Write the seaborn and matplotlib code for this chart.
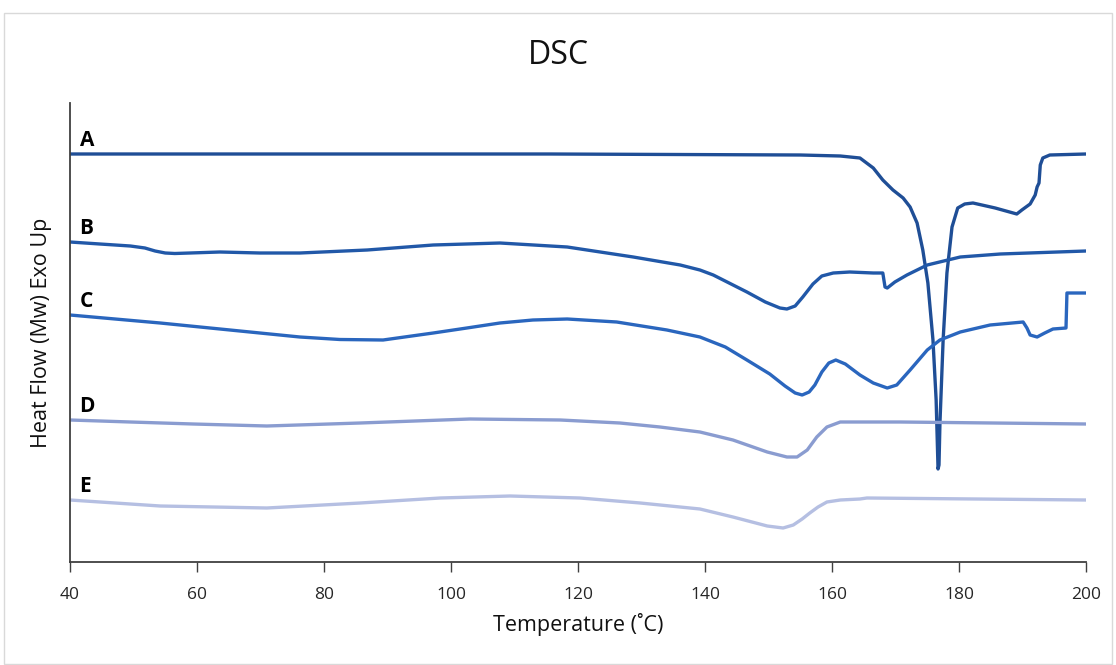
import numpy as np
import pandas as pd
import matplotlib
matplotlib.use("Agg")
import matplotlib.pyplot as plt
import seaborn as sns
from matplotlib.patches import Rectangle

# ---- data (temperature in °C, heat flow in arbitrary units) ----
samples = ["A", "B", "C", "D", "E"]

temp_A = [40.0, 76.2, 115.6, 155.0, 161.3, 164.4, 166.5, 168.0, 169.6, 171.2, 172.3, 173.4,
          174.3, 175.1, 175.9, 176.4, 176.7, 176.85, 177.0, 177.5, 178.1, 178.9, 179.8,
          180.9, 182.2, 185.7, 189.1, 189.9, 191.2, 192.0, 192.3, 192.6, 192.8, 193.2,
          194.3, 200.0]
hf_A = [4.08, 4.08, 4.08, 4.07, 4.06, 4.04, 3.94, 3.82, 3.72, 3.64, 3.55, 3.39,
        3.12, 2.79, 2.22, 1.62, 0.93, 0.97, 1.39, 2.22, 2.89, 3.35, 3.54,
        3.58, 3.59, 3.54, 3.48, 3.52, 3.58, 3.67, 3.75, 3.79, 3.97, 4.04,
        4.07, 4.08]

temp_B = [40.0, 44.7, 49.5, 51.8, 53.4, 55.0, 56.5, 58.9, 63.6, 69.9, 76.2, 86.8, 97.2,
          107.7, 118.3, 128.7, 136.1, 139.2, 141.3, 146.6, 149.5, 151.8, 152.9, 154.2,
          155.4, 157.0, 158.4, 160.2, 162.8, 166.5, 168.0, 168.35, 168.7, 169.9, 171.8,
          175.0, 180.2, 186.5, 200.0]
hf_B = [3.20, 3.18, 3.16, 3.14, 3.11, 3.09, 3.085, 3.09, 3.10, 3.09, 3.09, 3.12, 3.17,
        3.19, 3.15, 3.05, 2.97, 2.92, 2.87, 2.70, 2.60, 2.54, 2.53, 2.56,
        2.65, 2.78, 2.86, 2.89, 2.90, 2.89, 2.89, 2.75, 2.74, 2.80, 2.87,
        2.97, 3.05, 3.08, 3.11]

temp_C = [40.0, 54.2, 69.9, 76.2, 82.5, 89.3, 97.2, 102.5, 107.7, 112.9, 118.3, 126.1,
          134.0, 139.2, 143.2, 146.6, 150.2, 152.6, 154.2, 155.3, 156.4, 157.3, 158.4,
          159.5, 160.6, 162.1, 164.4, 166.5, 168.7, 170.2, 172.3, 175.0, 177.0, 180.2,
          184.9, 190.1, 190.7, 191.2, 192.3, 193.5, 194.8, 196.85, 197.0, 200.0]
hf_C = [2.47, 2.39, 2.29, 2.25, 2.225, 2.22, 2.29, 2.34, 2.39, 2.42, 2.43, 2.40,
        2.32, 2.25, 2.15, 2.02, 1.88, 1.76, 1.69, 1.67, 1.70, 1.77, 1.90,
        1.99, 2.02, 1.98, 1.87, 1.79, 1.74, 1.77, 1.92, 2.12, 2.22, 2.30,
        2.37, 2.40, 2.34, 2.27, 2.25, 2.29, 2.33, 2.34, 2.69, 2.69]

temp_D = [40.0, 49.5, 59.4, 71.0, 85.7, 103.0, 117.2, 126.6, 132.9, 139.2, 144.4, 149.8,
          152.9, 154.5, 156.1, 157.6, 159.2, 161.3, 170.7, 200.0]
hf_D = [1.42, 1.40, 1.38, 1.36, 1.39, 1.43, 1.42, 1.39, 1.35, 1.30, 1.22, 1.10,
        1.05, 1.05, 1.12, 1.25, 1.35, 1.40, 1.40, 1.38]

temp_E = [40.0, 54.2, 71.0, 85.7, 98.3, 109.3, 120.3, 129.8, 139.2, 144.4, 149.8, 152.3,
          153.9, 155.3, 156.5, 157.8, 159.2, 161.3, 164.4, 165.5, 200.0]
hf_E = [0.62, 0.56, 0.54, 0.59, 0.64, 0.66, 0.64, 0.59, 0.53, 0.45, 0.36, 0.34,
        0.37, 0.43, 0.49, 0.55, 0.60, 0.62, 0.63, 0.64, 0.62]

x_ticks = [40, 60, 80, 100, 120, 140, 160, 180, 200]
colors = ["#1F4E96", "#2158A8", "#2A66BE", "#8A9CD0", "#B5BFE2"]

series = {"A": (temp_A, hf_A), "B": (temp_B, hf_B), "C": (temp_C, hf_C),
          "D": (temp_D, hf_D), "E": (temp_E, hf_E)}
frames = []
for s in samples:
    t, h = series[s]
    frames.append(pd.DataFrame({"Temperature": t, "HeatFlow": h, "Sample": s}))
df = pd.concat(frames, ignore_index=True)

# ---- plotting ----
sns.set_style("white")
plt.rcParams["font.family"] = ["Open Sans", "DejaVu Sans"]

fig = plt.figure(figsize=(11.16, 6.65), dpi=100)
ax = fig.add_axes([70 / 1116, (665 - 562) / 665, (1086 - 70) / 1116, (562 - 103) / 665])

sns.lineplot(data=df, x="Temperature", y="HeatFlow", hue="Sample",
             palette=dict(zip(samples, colors)), sort=False, estimator=None,
             units="Sample", linewidth=2.4, legend=False, ax=ax,
             solid_joinstyle="round", solid_capstyle="round")

ax.set_xlim(40, 200)
ax.set_ylim(0, 4.59)
ax.set_xticks(x_ticks)
ax.set_xticklabels([str(v) for v in x_ticks], fontsize=12.5, color="#262626")
ax.set_yticks([])
ax.tick_params(axis="x", direction="out", length=7, width=1, color="#404040",
               pad=11, bottom=True)
for side in ["top", "right"]:
    ax.spines[side].set_visible(False)
for side in ["left", "bottom"]:
    ax.spines[side].set_color("#404040")
    ax.spines[side].set_linewidth(1.3)

ax.set_xlabel("Temperature (˚C)", fontsize=15.5, color="#111111", labelpad=7)
ax.set_ylabel("Heat Flow (Mw) Exo Up", fontsize=15.5, color="#111111", labelpad=13)

for s in samples:
    t, h = series[s]
    ax.text(41.5, h[0] + 0.03, s, fontsize=15, fontweight="bold", ha="left",
            va="bottom", color="black")

fig.text(0.5, 1 - 56 / 665, "DSC", fontsize=23, ha="center", va="center", color="#111111")

fig.patches.append(Rectangle((4 / 1116, 1 / 665), 1108 / 1116, 651 / 665,
                             transform=fig.transFigure, fill=False,
                             edgecolor="#D9D9D9", linewidth=1))

fig.savefig("out.png", dpi=100)
